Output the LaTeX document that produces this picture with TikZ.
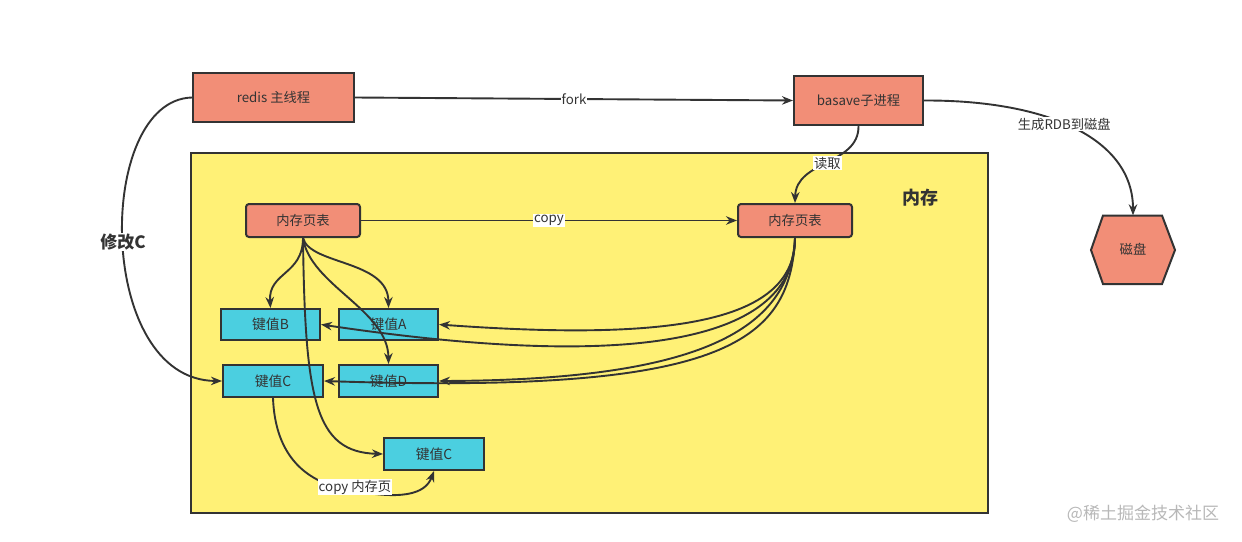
\documentclass[tikz,border=0pt]{standalone}
\usepackage{fontspec}
\setmainfont{Noto Sans CJK SC}
\usetikzlibrary{arrows.meta}
\definecolor{salmon}{HTML}{F28E77}
\definecolor{memyellow}{HTML}{FFF176}
\definecolor{keycyan}{HTML}{4BCFE0}
\definecolor{ink}{HTML}{333333}
\begin{document}
\begin{tikzpicture}[x=1pt,y=-1pt,
  proc/.style={draw=ink, line width=2pt, fill=salmon, text=ink, inner sep=0pt,
    font=\fontsize{13.3}{15}\selectfont, minimum height=49pt},
  pagetab/.style={draw=ink, line width=2pt, fill=salmon, text=ink, inner sep=0pt,
    rounded corners=3pt, font=\fontsize{13.3}{15}\selectfont, minimum width=114pt, minimum height=33pt},
  keybox/.style={draw=ink, line width=2pt, fill=keycyan, text=ink, inner sep=0pt,
    font=\fontsize{13.8}{15}\selectfont, minimum width=100pt, minimum height=32pt},
  conn/.style={draw=ink, line width=1.9pt, -{Stealth[length=11pt,width=8.5pt]}},
  elabel/.style={fill=white, text=ink, inner sep=1pt, font=\fontsize{13.3}{15}\selectfont},
]
\useasboundingbox[fill=white] (0,0) rectangle (1242,541);

% memory area
\node[draw=ink, line width=2pt, fill=memyellow, minimum width=797pt, minimum height=360pt, inner sep=0pt] (memory) at (589.5,333) {};
\node[text=ink, font=\fontsize{18}{20}\selectfont\bfseries] (memlabel) at (920,198) {内存};

% processes
\node[proc, minimum width=161pt] (redis) at (273.5,97.5) {redis 主线程};
\node[proc, minimum width=129pt] (basave) at (858.5,100.5) {basave子进程};

% disk hexagon
\draw[draw=ink, line width=2pt, fill=salmon] (1091,250) -- (1103,215.5) -- (1162,215.5) -- (1175,250) -- (1162,284) -- (1103,284) -- cycle;
\node[minimum width=84pt, minimum height=68.5pt, inner sep=0pt, text=ink, font=\fontsize{13.3}{15}\selectfont] (disk) at (1133,249.75) {磁盘};

% page tables
\node[pagetab] (ptl) at (303,220.5) {内存页表};
\node[pagetab] (ptr) at (795,220.5) {内存页表};

% key boxes
\node[keybox, minimum width=99pt, minimum height=31pt] (kb) at (270.5,324.5) {键值B};
\node[keybox, minimum width=99pt, minimum height=31pt] (ka) at (388.5,324.5) {键值A};
\node[keybox] (kc) at (273,381) {键值C};
\node[keybox, minimum width=99pt] (kd) at (388.5,381) {键值D};
\node[keybox] (kc2) at (434,454) {键值C};

% top-level connectors
\draw[conn] (redis.east) -- node[elabel] {fork} (basave.west);
\draw[conn] (basave.east) .. controls (1050,100) and (1133,140) .. node[elabel, pos=0.45] {生成RDB到磁盘} (disk.north);
\draw[conn] (basave.south) .. controls (859,165) and (796,160) .. node[elabel, pos=0.5] {读取} (ptr.north);
\draw[conn] (ptl.east) -- node[elabel] {copy} (ptr.west);
\draw[conn] (redis.west) .. controls (95,100) and (95,380) .. (kc.west);
\node[fill=white, text=ink, inner sep=1pt, font=\fontsize{17}{19}\selectfont\bfseries] (modc) at (123,242) {修改C};

% left page table to keys
\draw[conn] (ptl.south) .. controls (303,275) and (268,272) .. (kb.north);
\draw[conn] (ptl.south) .. controls (310,265) and (388,260) .. (ka.north);
\draw[conn] (ptl.south) .. controls (310,285) and (388,310) .. (kd.north);
\draw[conn] (ptl.south) .. controls (305,400) and (315,452) .. (kc2.west);

% right page table to keys
\draw[conn] (ptr.south) .. controls (795,320) and (680,342) .. (ka.east);
\draw[conn] (ptr.south) .. controls (795,340) and (640,372) .. (kb.east);
\draw[conn] (ptr.south) .. controls (790,330) and (700,380) .. (kd.east);
\draw[conn] (ptr.south) .. controls (790,345) and (720,394) .. (kc.east);

% copy page
\draw[conn] (kc.south) .. controls (275,450) and (300,482) .. (350,490)
  .. controls (400,500) and (425,495) .. (kc2.south);
\node[elabel] (copylabel) at (355,487) {copy 内存页};

% watermark
\node[text=black!28, font=\fontsize{17}{19}\selectfont] (wm) at (1143,514) {@稀土掘金技术社区};
\end{tikzpicture}
\end{document}
